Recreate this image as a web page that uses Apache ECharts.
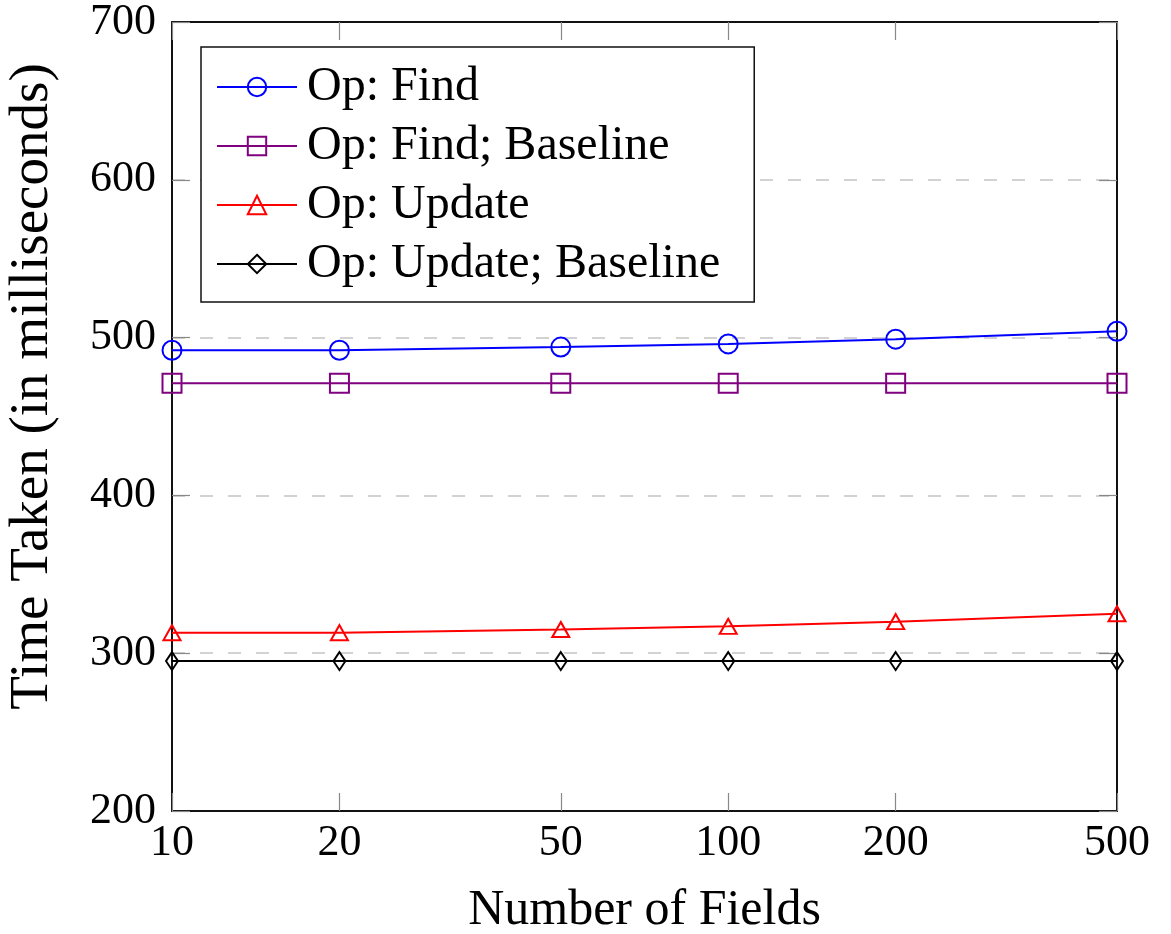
<!DOCTYPE html>
<html>
<head>
<meta charset="utf-8">
<script src="https://cdn.jsdelivr.net/npm/echarts@6/dist/echarts.min.js"></script>
<style>
html,body{margin:0;padding:0;background:#fff;}
#chart{width:1171px;height:934px;}
</style>
</head>
<body>
<div id="chart"></div>
<script>
const fields = [10, 20, 50, 100, 200, 500];
const xTicks = [10, 20, 50, 100, 200, 500];
const yTicks = [200, 300, 400, 500, 600, 700];
const findOp = [492, 492, 494, 496, 499, 504];
const findBaseline = [471, 471, 471, 471, 471, 471];
const updateOp = [313, 313, 315, 317, 320, 325];
const updateBaseline = [295, 295, 295, 295, 295, 295];
const seriesNames = ['Op: Find', 'Op: Find; Baseline', 'Op: Update', 'Op: Update; Baseline'];
const xName = 'Number of Fields';
const yName = 'Time Taken (in milliseconds)';

const FONT = 'Liberation Serif';
const chart = echarts.init(document.getElementById('chart'), null, {renderer: 'canvas'});

function mk(name, vals, color, symbol, size) {
  return {
    name: name,
    type: 'line',
    data: fields.map((f, i) => [f, vals[i]]),
    symbol: symbol,
    symbolSize: size,
    showAllSymbol: true,
    color: color,
    lineStyle: {color: color, width: 2},
    itemStyle: {color: 'rgba(0,0,0,0)', borderColor: color, borderWidth: 2},
    emphasis: {disabled: true},
    animation: false
  };
}

const tickStyle = {inside: true, length: 18, lineStyle: {color: '#888', width: 1.2}};
const axisLineStyle = {show: true, lineStyle: {color: '#111', width: 2}};

chart.setOption({
  backgroundColor: '#fff',
  animation: false,
  grid: {left: 172, right: 54, top: 22, bottom: 123, containLabel: false, outerBoundsMode: 'none'},
  legend: {
    orient: 'vertical',
    left: 201, top: 47,
    padding: [16, 34, 14, 15],
    borderColor: '#111', borderWidth: 1.5,
    backgroundColor: '#fff',
    itemWidth: 80, itemHeight: 23, itemGap: 11,
    textStyle: {fontFamily: FONT, fontSize: 48, color: '#000', lineHeight: 47, padding: [0, 0, 0, 5]},
    data: seriesNames
  },
  xAxis: [{
    type: 'log', logBase: 10, min: 10, max: 500,
    position: 'bottom',
    name: xName, nameLocation: 'middle', nameGap: 75,
    nameTextStyle: {fontFamily: FONT, fontSize: 50, color: '#000'},
    axisLine: axisLineStyle,
    axisTick: Object.assign({customValues: xTicks}, tickStyle),
    axisLabel: {customValues: xTicks, fontFamily: FONT, fontSize: 44, color: '#000', margin: 10, formatter: v => String(Math.round(v))},
    splitLine: {show: false},
    minorTick: {show: false}
  }, {
    type: 'log', logBase: 10, min: 10, max: 500,
    position: 'top',
    axisLine: axisLineStyle,
    axisTick: Object.assign({customValues: xTicks}, tickStyle),
    axisLabel: {show: false},
    splitLine: {show: false}
  }],
  yAxis: [{
    type: 'value', min: 200, max: 700, interval: 100,
    position: 'left',
    name: yName, nameLocation: 'middle', nameGap: 112,
    nameTextStyle: {fontFamily: FONT, fontSize: 55, color: '#000', padding: [0, 0, 0, 60]},
    axisLine: axisLineStyle,
    axisTick: tickStyle,
    axisLabel: {fontFamily: FONT, fontSize: 44, color: '#000', margin: 16, formatter: v => String(v)},
    splitLine: {show: true, lineStyle: {color: '#c4c4c4', width: 1.5, type: [13, 15]}}
  }, {
    type: 'value', min: 200, max: 700, interval: 100,
    position: 'right',
    axisLine: axisLineStyle,
    axisTick: tickStyle,
    axisLabel: {show: false},
    splitLine: {show: false}
  }],
  series: [
    mk(seriesNames[0], findOp, '#0000ff', 'circle', 19),
    mk(seriesNames[1], findBaseline, '#800080', 'rect', 19),
    mk(seriesNames[2], updateOp, '#ff0000', 'triangle', [17, 15]),
    mk(seriesNames[3], updateBaseline, '#000000', 'diamond', [12, 18])
  ]
});
</script>
</body>
</html>
